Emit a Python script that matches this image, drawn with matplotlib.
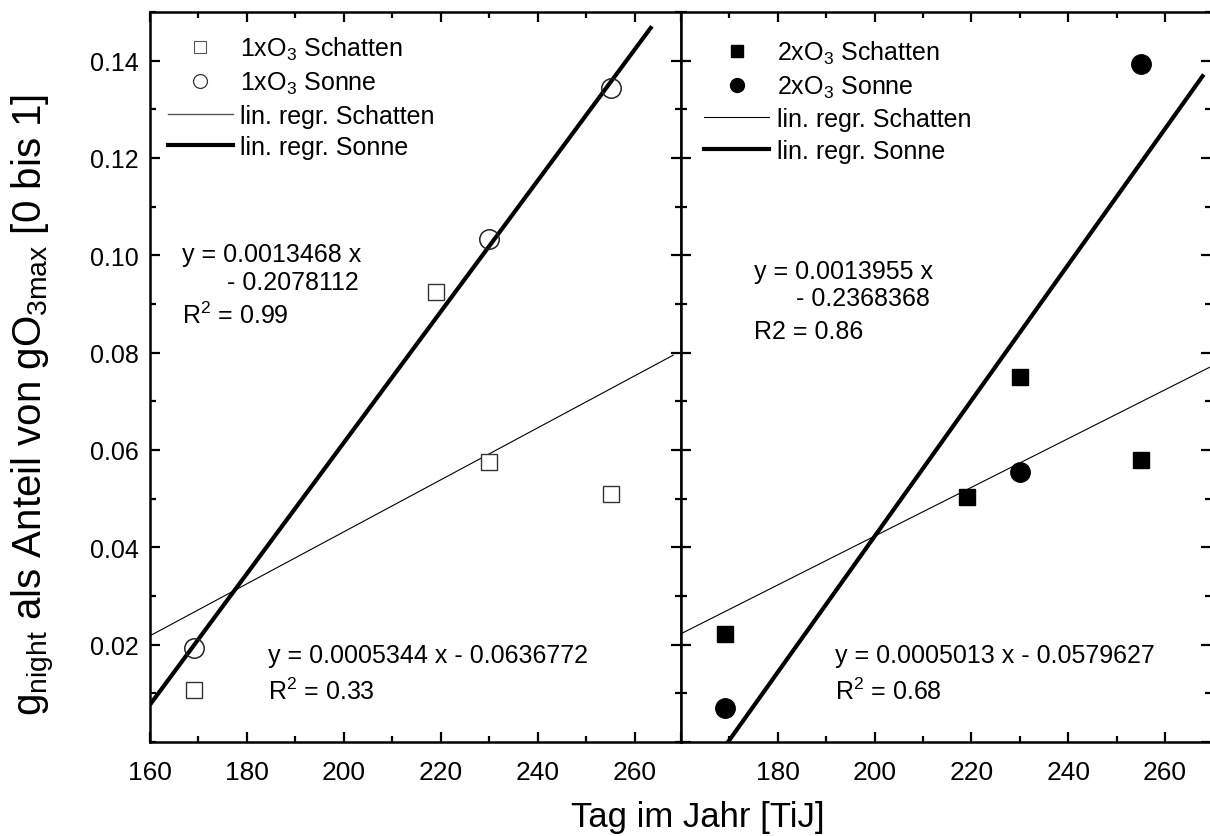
import numpy as np
import matplotlib
matplotlib.use('Agg')
import matplotlib.pyplot as plt
from matplotlib.lines import Line2D
from matplotlib.ticker import MultipleLocator

plt.rcParams['font.family'] = ['Liberation Sans', 'DejaVu Sans']
plt.rcParams['mathtext.fontset'] = 'custom'
plt.rcParams['mathtext.rm'] = 'Liberation Sans'
plt.rcParams['mathtext.default'] = 'regular'

# measured days and g_night fractions
days = [169, 219, 230, 255]
days_sonne = [169, 230, 255]

schatten_1x = [0.0107, 0.0924, 0.0575, 0.0509]
sonne_1x = [0.0194, 0.1034, 0.1344]

schatten_2x = [0.0221, 0.0503, 0.0750, 0.0580]
sonne_2x = [0.0070, 0.0554, 0.1394]

# linear regressions: slope, intercept, R^2 text
fit_schatten_1x = (0.0005344, -0.0636772, 'R$^2$ = 0.33')
fit_sonne_1x = (0.0013468, -0.2078112, 'R$^2$ = 0.99')
fit_schatten_2x = (0.0005013, -0.0579627, 'R$^2$ = 0.68')
fit_sonne_2x = (0.0013955, -0.2368368, 'R2 = 0.86')

x_range = (160, 269.5)
y_range = (0, 0.15)

TXT = 18

fig = plt.figure(figsize=(12.1, 8.37), dpi=100)
ax1 = fig.add_axes([150 / 1210, 94 / 837, 531 / 1210, 730 / 837])
ax2 = fig.add_axes([681 / 1210, 94 / 837, 530 / 1210, 730 / 837])


def style_axis(ax):
    ax.set_xlim(*x_range)
    ax.set_ylim(*y_range)
    ax.xaxis.set_major_locator(MultipleLocator(20))
    ax.xaxis.set_minor_locator(MultipleLocator(10))
    ax.yaxis.set_major_locator(MultipleLocator(0.02))
    ax.yaxis.set_minor_locator(MultipleLocator(0.01))
    ax.tick_params(which='both', direction='in', top=True, right=True, width=1.6)
    ax.tick_params(axis='x', labelsize=19, pad=13)
    ax.tick_params(axis='y', labelsize=18, pad=8)
    ax.tick_params(which='major', length=7)
    ax.tick_params(which='minor', length=4)
    for s in ax.spines.values():
        s.set_linewidth(1.8)


def fit_line(ax, fit, x0, x1, lw):
    xs = np.array([x0, x1])
    ax.plot(xs, fit[0] * xs + fit[1], color='black', lw=lw,
            solid_capstyle='butt', zorder=2)


def fit_text(fit, one_line):
    eq = 'y = %.7f x' % fit[0]
    if one_line:
        return eq + ' - %.7f' % -fit[1]
    return eq


# left panel: 1xO3
style_axis(ax1)
ax1.plot(days, schatten_1x, 's', ms=12, mfc='white', mec='#333333', mew=1.0, zorder=3)
ax1.plot(days_sonne, sonne_1x, 'o', ms=14, mfc='none', mec='#222222', mew=1.1, zorder=3)
fit_line(ax1, fit_schatten_1x, 160, 268, 0.8)
fit_line(ax1, fit_sonne_1x, 160, 263.5, 3.0)

ax1.set_yticks(np.arange(0.02, 0.141, 0.02))
ax1.yaxis.set_major_formatter(plt.FuncFormatter(lambda v, p: '%.2f' % v))

ax1.text(166.7, 0.1003, fit_text(fit_sonne_1x, False), fontsize=TXT, va='center')
ax1.text(175.8, 0.0946, '- %.7f' % -fit_sonne_1x[1], fontsize=TXT, va='center')
ax1.text(166.7, 0.0878, fit_sonne_1x[2], fontsize=TXT, va='center')
ax1.text(184.4, 0.0178, fit_text(fit_schatten_1x, True), fontsize=TXT, va='center')
ax1.text(184.4, 0.0105, fit_schatten_1x[2], fontsize=TXT, va='center')

# right panel: 2xO3
style_axis(ax2)
ax2.set_yticklabels([])
ax2.plot(days, schatten_2x, 's', ms=12, color='black', zorder=3)
ax2.plot(days_sonne, sonne_2x, 'o', ms=14, color='black', zorder=3)
fit_line(ax2, fit_schatten_2x, 160, 270, 0.8)
fit_line(ax2, fit_sonne_2x, 160, 268, 3.0)
ax2.set_xticks([160, 180, 200, 220, 240, 260])
ax2.set_xticklabels(['', '180', '200', '220', '240', '260'])

ax2.text(175.1, 0.0968, fit_text(fit_sonne_2x, False), fontsize=TXT, va='center')
ax2.text(183.7, 0.0912, '- %.7f' % -fit_sonne_2x[1], fontsize=TXT, va='center')
ax2.text(175.1, 0.0844, fit_sonne_2x[2], fontsize=TXT, va='center')
ax2.text(191.8, 0.0178, fit_text(fit_schatten_2x, True), fontsize=TXT, va='center')
ax2.text(191.8, 0.0105, fit_schatten_2x[2], fontsize=TXT, va='center')

# legends
leg1_handles = [
    Line2D([], [], ls='none', marker='s', ms=8, mfc='white', mec='#555555', mew=0.8),
    Line2D([], [], ls='none', marker='o', ms=10, mfc='white', mec='#333333', mew=0.9),
    Line2D([], [], color='#555555', lw=1.0),
    Line2D([], [], color='black', lw=3.0),
]
leg1_labels = ['1xO$_3$ Schatten', '1xO$_3$ Sonne', 'lin. regr. Schatten', 'lin. regr. Sonne']
ax1.legend(leg1_handles, leg1_labels, loc='upper left', bbox_to_anchor=(0.015, 0.982),
           frameon=False, fontsize=TXT, handlelength=2.6, handletextpad=0.3,
           labelspacing=0.3, borderaxespad=0)

leg2_handles = [
    Line2D([], [], ls='none', marker='s', ms=8, color='black'),
    Line2D([], [], ls='none', marker='o', ms=10, color='black'),
    Line2D([], [], color='black', lw=0.8),
    Line2D([], [], color='black', lw=3.0),
]
leg2_labels = ['2xO$_3$ Schatten', '2xO$_3$ Sonne', 'lin. regr. Schatten', 'lin. regr. Sonne']
ax2.legend(leg2_handles, leg2_labels, loc='upper left', bbox_to_anchor=(0.025, 0.977),
           frameon=False, fontsize=TXT, handlelength=2.6, handletextpad=0.3,
           labelspacing=0.3, borderaxespad=0)

fig.text(698 / 1210, 0.004, 'Tag im Jahr [TiJ]', ha='center', va='bottom', fontsize=25)
fig.text(0.008, 0.516, 'g$_{night}$ als Anteil von gO$_{3max}$ [0 bis 1]', rotation=90,
         ha='left', va='center', fontsize=29)

fig.savefig('out.png', dpi=100)
